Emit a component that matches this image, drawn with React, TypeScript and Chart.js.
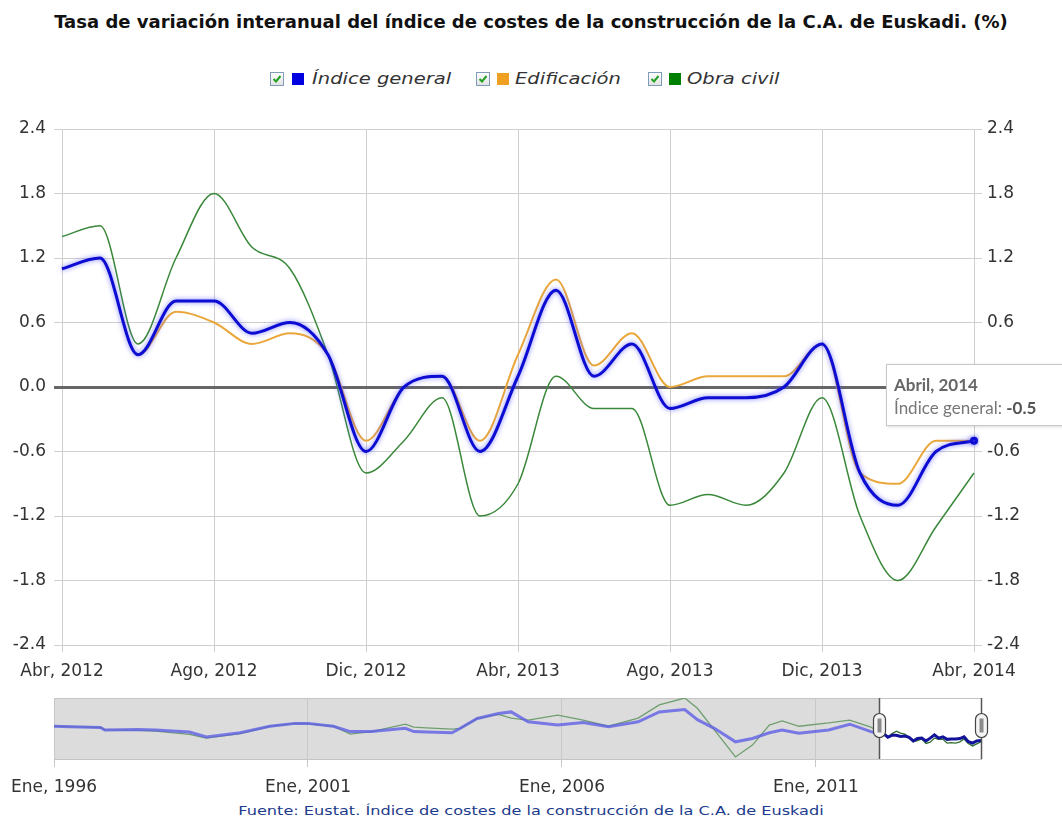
import React, { useEffect, useRef } from "react";
import { Chart, registerables } from "chart.js";

Chart.register(...registerables);

// ---------- Main chart data ----------
const months = [
  "Abr, 2012", "May, 2012", "Jun, 2012", "Jul, 2012", "Ago, 2012", "Sep, 2012", "Oct, 2012", "Nov, 2012",
  "Dic, 2012", "Ene, 2013", "Feb, 2013", "Mar, 2013", "Abr, 2013", "May, 2013", "Jun, 2013", "Jul, 2013",
  "Ago, 2013", "Sep, 2013", "Oct, 2013", "Nov, 2013", "Dic, 2013", "Ene, 2014", "Feb, 2014", "Mar, 2014",
  "Abr, 2014",
];
const indiceGeneral = [1.1, 1.2, 0.3, 0.8, 0.8, 0.5, 0.6, 0.3, -0.6, 0.0, 0.1, -0.6, 0.1, 0.9, 0.1, 0.4, -0.2, -0.1, -0.1, 0.0, 0.4, -0.8, -1.1, -0.6, -0.5];
const edificacion = [1.1, 1.2, 0.3, 0.7, 0.6, 0.4, 0.5, 0.3, -0.5, 0.0, 0.1, -0.5, 0.3, 1.0, 0.2, 0.5, 0.0, 0.1, 0.1, 0.1, 0.4, -0.8, -0.9, -0.5, -0.5];
const obraCivil = [1.4, 1.5, 0.4, 1.2, 1.8, 1.3, 1.1, 0.3, -0.8, -0.5, -0.1, -1.2, -0.9, 0.1, -0.2, -0.2, -1.1, -1.0, -1.1, -0.8, -0.1, -1.2, -1.8, -1.3, -0.8];
const yTicks = [-2.4, -1.8, -1.2, -0.6, 0.0, 0.6, 1.2, 1.8, 2.4];
const seriesNames = ["Índice general", "Edificación", "Obra civil"];
const seriesColors = ["#0c0cd2", "#eaa73c", "#3a883a"];

// ---------- Navigator data (months since Ene 1996) ----------
const navMonths = [0, 4, 11, 12, 20, 24, 32, 36, 44, 51, 57, 60, 66, 70, 75, 83, 85, 88, 94, 96, 100, 105, 108, 112, 119, 125, 131, 138, 143, 149, 152, 156, 161, 165, 169, 172, 176, 183, 188, 193];
const navGeneral = [3.0, 2.9, 2.7, 2.1, 2.2, 2.1, 1.6, 0.4, 1.4, 3.0, 3.7, 3.7, 3.0, 1.7, 1.7, 2.5, 1.7, 1.6, 1.4, 2.5, 4.9, 6.1, 6.5, 4.1, 3.3, 3.9, 2.9, 4.1, 6.5, 7.1, 4.6, 2.5, -0.8, 0.0, 1.4, 2.1, 1.3, 2.1, 3.5, 1.7];
const navObraCivil = [3.0, 2.9, 2.7, 2.1, 2.0, 1.8, 1.0, 0.1, 1.2, 3.0, 3.7, 3.6, 3.0, 1.1, 1.7, 3.5, 2.8, 2.6, 2.3, 2.5, 4.9, 5.9, 5.0, 4.5, 5.7, 4.5, 3.0, 5.0, 8.2, 9.9, 7.4, 2.1, -4.5, -1.6, 3.3, 4.3, 3.0, 3.8, 4.5, 2.8];
const navTickMonths = [0, 60, 120, 180];
const navTickLabels = ["Ene, 1996", "Ene, 2001", "Ene, 2006", "Ene, 2011"];
const navSelStart = 195;
const navSelEnd = 219;

const FONT = "'DejaVu Sans', Verdana, sans-serif";

const glowPlugin = {
  id: "glow",
  beforeDatasetDraw(chart: any, args: any) {
    if (args.index === 0) {
      const ctx = chart.ctx;
      ctx.save();
      ctx.shadowColor = "rgba(80,80,255,0.75)";
      ctx.shadowBlur = 5;
    }
  },
  afterDatasetDraw(chart: any, args: any) {
    if (args.index === 0) chart.ctx.restore();
  },
};

const navPlugin = {
  id: "navBox",
  beforeDraw(chart: any) {
    const { ctx, chartArea } = chart;
    const xs = chart.scales.x;
    const xSel = xs.getPixelForValue(navSelStart);
    const xEnd = xs.getPixelForValue(navSelEnd);
    ctx.save();
    ctx.fillStyle = "#dcdcdc";
    ctx.fillRect(chartArea.left, chartArea.top, xSel - chartArea.left, chartArea.bottom - chartArea.top);
    ctx.fillStyle = "#ffffff";
    ctx.fillRect(xSel, chartArea.top, xEnd - xSel, chartArea.bottom - chartArea.top);
    ctx.strokeStyle = "#c4c4c4";
    ctx.lineWidth = 1;
    ctx.strokeRect(chartArea.left + 0.5, chartArea.top + 0.5, xEnd - chartArea.left, chartArea.bottom - chartArea.top);
    ctx.restore();
  },
  afterDraw(chart: any) {
    const { ctx, chartArea } = chart;
    const xs = chart.scales.x;
    const cy = (chartArea.top + chartArea.bottom) / 2 - 3;
    [navSelStart, navSelEnd].forEach((m) => {
      const x = Math.round(xs.getPixelForValue(m)) + 0.5;
      ctx.save();
      ctx.strokeStyle = "#555";
      ctx.lineWidth = 1.5;
      ctx.beginPath();
      ctx.moveTo(x, chartArea.top);
      ctx.lineTo(x, chartArea.bottom);
      ctx.stroke();
      const w = 12, h = 24;
      ctx.beginPath();
      ctx.roundRect(x - w / 2, cy - h / 2, w, h, 6);
      ctx.fillStyle = "#f4f4f4";
      ctx.fill();
      ctx.strokeStyle = "#444";
      ctx.lineWidth = 1.2;
      ctx.stroke();
      ctx.fillStyle = "#8a8a8a";
      ctx.fillRect(x - 2, cy - 7, 4, 14);
      ctx.restore();
    });
  },
};

function CheckBox() {
  return (
    <span
      style={{
        position: "absolute",
        width: 12,
        height: 12,
        border: "1px solid #7f9db9",
        background: "linear-gradient(#ffffff, #e2e2e2)",
        boxSizing: "content-box",
      }}
    >
      <svg width="12" height="12" style={{ position: "absolute", left: 0, top: 0 }}>
        <path d="M2.5 6 L5 8.5 L9.5 3" stroke="#22a022" strokeWidth="2" fill="none" />
      </svg>
    </span>
  );
}

export default function App() {
  const mainRef = useRef<HTMLCanvasElement>(null);
  const navRef = useRef<HTMLCanvasElement>(null);

  useEffect(() => {
    const tickFont = { family: FONT, size: 17 };
    const gridGray = "#cfcfcf";
    const datasets = [indiceGeneral, edificacion, obraCivil].map((d, i) => ({
      label: seriesNames[i],
      data: d,
      borderColor: seriesColors[i],
      backgroundColor: seriesColors[i],
      borderWidth: [3, 2, 1.5][i],
      order: i,
      cubicInterpolationMode: "monotone" as const,
      pointRadius: (c: any) => (i === 0 && c.dataIndex === months.length - 1 ? 2.5 : 0),
      pointHoverRadius: 0,
      yAxisID: "y",
    }));

    const yCommon = {
      min: -2.4,
      max: 2.4,
      afterBuildTicks: (s: any) => {
        s.ticks = yTicks.map((v) => ({ value: v }));
      },
      border: { display: false },
    };

    const main = new Chart(mainRef.current!, {
      type: "line",
      data: { labels: months, datasets },
      options: {
        responsive: false,
        animation: false,
        devicePixelRatio: 1,
        events: [],
        layout: { padding: { top: 129, left: 0, right: 0, bottom: 0 } },
        plugins: { legend: { display: false }, tooltip: { enabled: false }, title: { display: false } },
        scales: {
          x: {
            grid: { color: gridGray, tickLength: 7 },
            border: { display: false },
            ticks: {
              autoSkip: false,
              maxRotation: 0,
              padding: 9,
              font: tickFont,
              color: "#333",
              callback: (_v: any, i: number) => (i % 4 === 0 ? months[i] : null),
            },
            afterFit: (s: any) => {
              s.height = 45;
            },
          },
          y: {
            ...yCommon,
            position: "left",
            grid: {
              color: (c: any) => (c.tick && c.tick.value === 0 ? "#666" : gridGray),
              lineWidth: (c: any) => (c.tick && c.tick.value === 0 ? 3 : 1),
              tickLength: 8,
            },
            ticks: { font: tickFont, color: "#333", padding: 8, callback: (v: any) => Number(v).toFixed(1) },
            afterFit: (s: any) => {
              s.width = 62;
            },
          },
          y2: {
            ...yCommon,
            position: "right",
            grid: { drawOnChartArea: false, color: gridGray, tickLength: 8 },
            ticks: { font: tickFont, color: "#333", padding: 5, callback: (v: any) => Number(v).toFixed(1) },
            afterFit: (s: any) => {
              s.width = 88;
            },
          },
        },
      } as any,
      plugins: [glowPlugin],
    });

    const navGenPts = navMonths
      .map((m, i) => ({ x: m, y: navGeneral[i] }))
      .concat(indiceGeneral.map((v, i) => ({ x: navSelStart + i, y: v })));
    const navObraPts = navMonths
      .map((m, i) => ({ x: m, y: navObraCivil[i] }))
      .concat(obraCivil.map((v, i) => ({ x: navSelStart + i, y: v })));

    const nav = new Chart(navRef.current!, {
      type: "line",
      data: {
        datasets: [
          {
            data: navGenPts,
            borderWidth: 3,
            pointRadius: 0,
            order: 0,
            borderColor: "rgba(95,95,230,0.8)",
            segment: {
              borderColor: (c: any) => (c.p0.parsed.x >= navSelStart ? "#12129a" : "rgba(95,95,230,0.8)"),
            },
          },
          {
            data: navObraPts,
            borderWidth: 1.3,
            pointRadius: 0,
            order: 1,
            borderColor: "#6f9f6f",
            segment: {
              borderColor: (c: any) => (c.p0.parsed.x >= navSelStart ? "#2f6f2f" : "#6f9f6f"),
            },
          },
        ],
      },
      options: {
        responsive: false,
        animation: false,
        devicePixelRatio: 1,
        events: [],
        layout: { padding: { top: 8, left: 54, right: 81, bottom: 0 } },
        plugins: { legend: { display: false }, tooltip: { enabled: false } },
        scales: {
          x: {
            type: "linear",
            min: 0,
            max: navSelEnd,
            afterBuildTicks: (s: any) => {
              s.ticks = navTickMonths.map((v) => ({ value: v }));
            },
            grid: { color: "#c8c8c8", tickLength: 8 },
            border: { display: false },
            ticks: {
              font: { family: FONT, size: 17 },
              color: "#333",
              padding: 10,
              maxRotation: 0,
              callback: (v: any) => {
                const k = navTickMonths.indexOf(Number(v));
                return k >= 0 ? navTickLabels[k] : null;
              },
            },
            afterFit: (s: any) => {
              s.height = 41;
            },
          },
          y: { display: false, min: -5, max: 9.9 },
        },
      } as any,
      plugins: [navPlugin],
    });

    return () => {
      main.destroy();
      nav.destroy();
    };
  }, []);

  const legendItems = [
    { cb: 270, sq: 292, tx: 312 },
    { cb: 476, sq: 497, tx: 515 },
    { cb: 648, sq: 669, tx: 687 },
  ];

  return (
    <div
      style={{
        position: "absolute",
        left: 0,
        top: 0,
        width: 1062,
        height: 821,
        overflow: "hidden",
        background: "#fff",
        fontFamily: FONT,
      }}
    >
      <div
        style={{
          position: "absolute",
          top: 10,
          left: 0,
          width: 1062,
          textAlign: "center",
          fontWeight: "bold",
          fontSize: 18,
          lineHeight: "24px",
          color: "#111",
          whiteSpace: "nowrap",
        }}
      >
        Tasa de variación interanual del índice de costes de la construcción de la C.A. de Euskadi. (%)
      </div>

      {legendItems.map((p, i) => (
        <React.Fragment key={i}>
          <div style={{ position: "absolute", left: p.cb, top: 72 }}>
            <CheckBox />
          </div>
          <div
            style={{
              position: "absolute",
              left: p.sq,
              top: 73,
              width: 12,
              height: 12,
              background: ["#0000e0", "#f0a020", "#008000"][i],
            }}
          />
          <div
            style={{
              position: "absolute",
              left: p.tx,
              top: 69,
              fontStyle: "italic",
              fontSize: 16,
              lineHeight: "20px",
              color: "#333",
              whiteSpace: "nowrap",
              transform: "scaleX(1.22)",
              transformOrigin: "left center",
            }}
          >
            {seriesNames[i]}
          </div>
        </React.Fragment>
      ))}

      <canvas ref={mainRef} width={1062} height={690} style={{ position: "absolute", left: 0, top: 0 }} />

      <div
        style={{
          position: "absolute",
          left: 886,
          top: 364,
          width: 200,
          height: 60,
          background: "#ffffff",
          border: "1px solid #c8c8c8",
          boxShadow: "1px 1px 3px rgba(0,0,0,0.15)",
          fontFamily: "Lato, sans-serif",
          fontSize: 17,
          color: "#777",
          whiteSpace: "nowrap",
        }}
      >
        <div style={{ position: "absolute", left: 7, top: 9, fontWeight: "bold", color: "#666" }}>Abril, 2014</div>
        <div style={{ position: "absolute", left: 7, top: 32 }}>
          Índice general: <b style={{ color: "#555" }}>-0.5</b>
        </div>
      </div>

      <canvas ref={navRef} width={1062} height={110} style={{ position: "absolute", left: 0, top: 690 }} />

      <div
        style={{
          position: "absolute",
          top: 802,
          left: 531,
          fontSize: 13,
          lineHeight: "18px",
          color: "#1d3b8c",
          whiteSpace: "nowrap",
          transform: "translateX(-50%) scaleX(1.24)",
        }}
      >
        Fuente: Eustat. Índice de costes de la construcción de la C.A. de Euskadi
      </div>
    </div>
  );
}
